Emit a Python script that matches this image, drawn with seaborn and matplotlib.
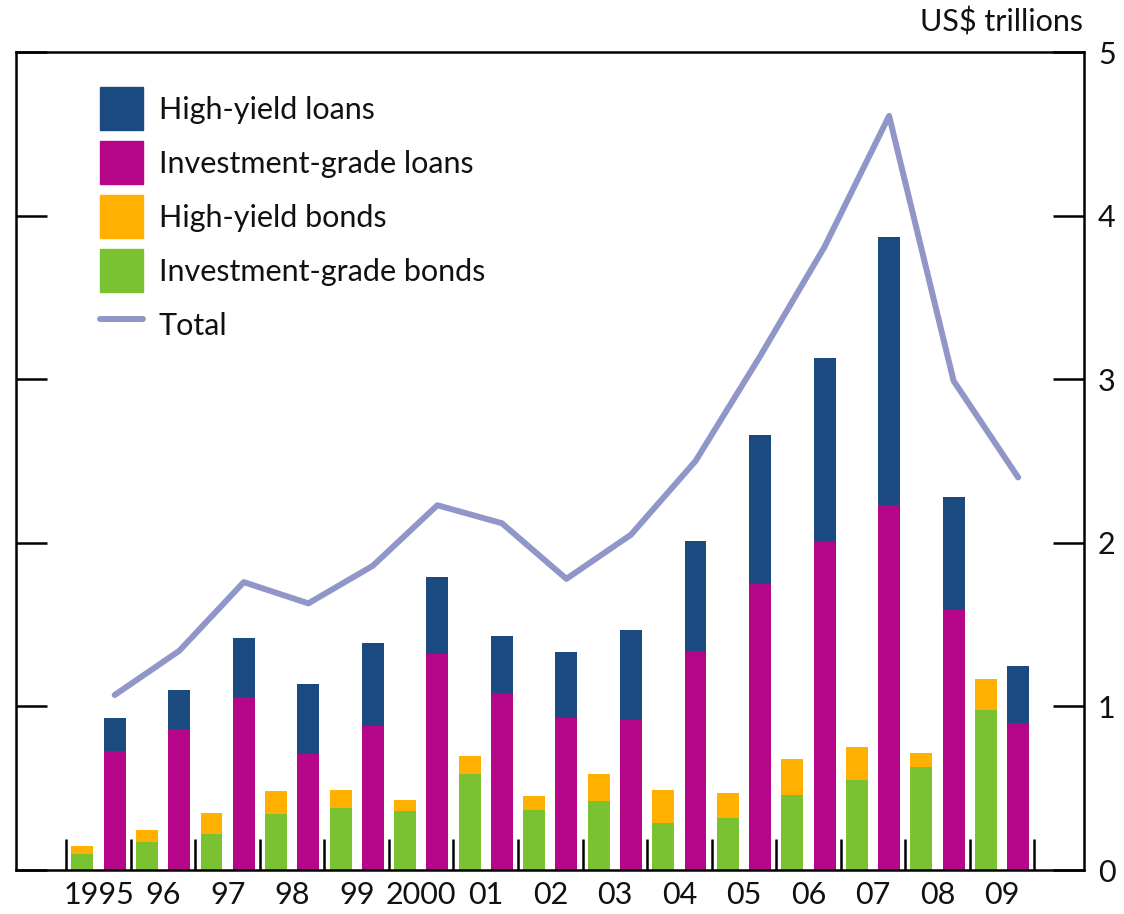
import pandas as pd
import matplotlib.pyplot as plt
import matplotlib.patches as mpatches
import matplotlib.lines as mlines
import seaborn as sns
import numpy as np

years = ["1995", "96", "97", "98", "99", "2000", "01", "02", "03", "04",
         "05", "06", "07", "08", "09"]
ig_bonds = [0.10, 0.17, 0.22, 0.34, 0.38, 0.36, 0.59, 0.37, 0.42, 0.29, 0.32, 0.46, 0.55, 0.63, 0.98]
hy_bonds = [0.045, 0.075, 0.13, 0.145, 0.11, 0.07, 0.11, 0.085, 0.17, 0.20, 0.15, 0.22, 0.20, 0.085, 0.19]
ig_loans = [0.73, 0.86, 1.06, 0.71, 0.88, 1.32, 1.08, 0.93, 0.92, 1.34, 1.75, 2.01, 2.23, 1.59, 0.90]
hy_loans = [0.20, 0.24, 0.36, 0.43, 0.51, 0.47, 0.35, 0.40, 0.55, 0.67, 0.91, 1.12, 1.64, 0.69, 0.35]
total = [1.07, 1.34, 1.76, 1.63, 1.86, 2.23, 2.12, 1.78, 2.05, 2.50, 3.14, 3.81, 4.61, 2.99, 2.40]

c_hyl = "#1a4a80"
c_igl = "#b5068a"
c_hyb = "#ffb000"
c_igb = "#7ac231"
c_tot = "#9096c8"

sns.set_theme(style="white")
plt.rcParams["font.family"] = ["Lato", "DejaVu Sans"]

# upper layer = cumulative tops, lower layer drawn over it
upper = pd.DataFrame({
    "year": years * 2,
    "kind": ["Bonds"] * len(years) + ["Loans"] * len(years),
    "value": list(np.add(ig_bonds, hy_bonds)) + list(np.add(ig_loans, hy_loans)),
})
lower = pd.DataFrame({
    "year": years * 2,
    "kind": ["Bonds"] * len(years) + ["Loans"] * len(years),
    "value": ig_bonds + ig_loans,
})

fig = plt.figure(figsize=(11.24, 9.14), dpi=100)
ax = fig.add_axes([0.0142, 0.0481, 0.9502, 0.8949])

sns.barplot(data=upper, x="year", y="value", hue="kind", order=years,
            palette={"Bonds": c_hyb, "Loans": c_hyl}, width=1.0, gap=0.32,
            saturation=1, linewidth=0, errorbar=None, legend=False, ax=ax)
sns.barplot(data=lower, x="year", y="value", hue="kind", order=years,
            palette={"Bonds": c_igb, "Loans": c_igl}, width=1.0, gap=0.32,
            saturation=1, linewidth=0, errorbar=None, legend=False, ax=ax)

line_df = pd.DataFrame({"pos": np.arange(len(years)) + 0.25, "total": total})
sns.lineplot(data=line_df, x="pos", y="total", color=c_tot, linewidth=4.3, ax=ax)

ax.set_xlim(-1.28, 15.27)
ax.set_ylim(0, 5)
ax.set_xlabel("")
ax.set_ylabel("")

for s in ax.spines.values():
    s.set_color("black")
    s.set_linewidth(1.8)

ax.set_xticks(range(len(years)))
ax.set_xticklabels(years)
ax.set_xticks(np.arange(-0.5, len(years)), minor=True)
ax.tick_params(axis="x", which="major", length=0, pad=8, labelsize=22, colors="#111111")
ax.tick_params(axis="x", which="minor", direction="in", length=22, width=1.8,
               color="black", bottom=True)

ax.set_yticks(range(6))
ax.yaxis.tick_right()
ax.tick_params(axis="y", which="major", direction="in", length=22, width=1.8,
               color="black", left=True, right=True, labelleft=False,
               labelright=True, labelsize=22, pad=10, labelcolor="#111111")

fig.text(1083 / 1124, 1 - 22 / 914, "US$ trillions", ha="right", va="center",
         fontsize=22, color="#111111")

handles = [
    mpatches.Patch(color=c_hyl, label="High-yield loans"),
    mpatches.Patch(color=c_igl, label="Investment-grade loans"),
    mpatches.Patch(color=c_hyb, label="High-yield bonds"),
    mpatches.Patch(color=c_igb, label="Investment-grade bonds"),
    mlines.Line2D([], [], color=c_tot, linewidth=4.3, label="Total"),
]
ax.legend(handles=handles, loc="upper left", bbox_to_anchor=(0.079, 0.957),
          frameon=False, fontsize=22, handlelength=1.41, handleheight=1.79,
          handletextpad=0.5, labelspacing=0.36, borderpad=0, borderaxespad=0,
          labelcolor="#111111")

plt.savefig("out.png", dpi=100)
